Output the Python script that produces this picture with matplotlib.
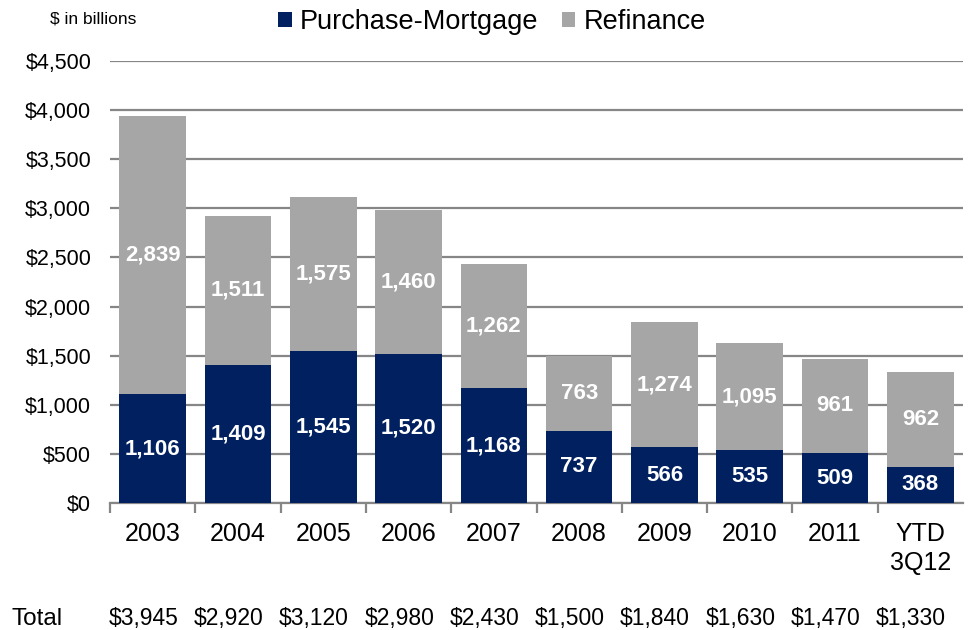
import matplotlib
matplotlib.use("Agg")
import matplotlib.pyplot as plt
from matplotlib.patches import Patch
from matplotlib.transforms import blended_transform_factory
import numpy as np

plt.rcParams['font.family'] = ['Liberation Sans', 'DejaVu Sans']

categories = ["2003", "2004", "2005", "2006", "2007", "2008", "2009", "2010", "2011", "YTD\n3Q12"]
purchase = [1106, 1409, 1545, 1520, 1168, 737, 566, 535, 509, 368]
refinance = [2839, 1511, 1575, 1460, 1262, 763, 1274, 1095, 961, 962]
totals = ["$3,945", "$2,920", "$3,120", "$2,980", "$2,430", "$1,500", "$1,840", "$1,630", "$1,470", "$1,330"]
yticks = [0, 500, 1000, 1500, 2000, 2500, 3000, 3500, 4000, 4500]

navy = "#002060"
gray = "#A6A6A6"
gridc = "#868686"

W, H = 973, 630
fig = plt.figure(figsize=(W / 100, H / 100), dpi=100)
ax = fig.add_axes([110 / W, 1 - 503 / H, 853 / W, 442 / H])

x = np.arange(len(categories))
bw = 0.78
ax.bar(x, purchase, bw, color=navy, zorder=3)
ax.bar(x, refinance, bw, bottom=purchase, color=gray, zorder=3)

for i in range(len(x)):
    ax.text(x[i], purchase[i] / 2, f"{purchase[i]:,}", ha="center", va="center",
            color="white", fontsize=16, fontweight="bold", zorder=4)
    ax.text(x[i], purchase[i] + refinance[i] / 2, f"{refinance[i]:,}", ha="center", va="center",
            color="white", fontsize=16, fontweight="bold", zorder=4)

ax.set_xlim(-0.5, len(x) - 0.5)
ax.set_ylim(0, 4500)
ax.set_yticks(yticks)
ax.set_yticklabels([f"${v:,}" for v in yticks], fontsize=15.5)
ax.yaxis.grid(True, color=gridc, linewidth=1.6, zorder=0)
ax.tick_params(axis="y", length=0, pad=13.5)

ax.set_xticks(x)
ax.set_xticklabels(categories, fontsize=18, linespacing=1.25)
ax.tick_params(axis="x", which="major", length=0, pad=14)
ax.set_xticks(np.arange(-0.5, len(x) - 0.5, 1.0), minor=True)
ax.tick_params(axis="x", which="minor", length=7, width=1.6, color=gridc)

for s in ["left", "right", "top"]:
    ax.spines[s].set_visible(False)
ax.spines["bottom"].set_color(gridc)
ax.spines["bottom"].set_linewidth(1.6)

# totals row
tr = blended_transform_factory(ax.transData, fig.transFigure)
for i, t in enumerate(totals):
    ax.text(x[i] - 0.11, 1 - 619 / H, t, transform=tr, ha="center", va="center",
            fontsize=16.5, clip_on=False)
fig.text(12 / W, 1 - 619 / H, "Total", ha="left", va="center", fontsize=17.5)

fig.text(50 / W, 1 - 19 / H, "$ in billions", ha="left", va="center", fontsize=12.5)

handles = [Patch(facecolor=navy, label="Purchase-Mortgage"),
           Patch(facecolor=gray, label="Refinance")]
fig.legend(handles=handles, loc="center", bbox_to_anchor=(492 / W, 1 - 22 / H), ncol=2,
           frameon=False, fontsize=19.5, handlelength=0.5, handleheight=0.5,
           handletextpad=0.3, columnspacing=0.85, borderpad=0, borderaxespad=0)

fig.savefig("out.png", dpi=100)
